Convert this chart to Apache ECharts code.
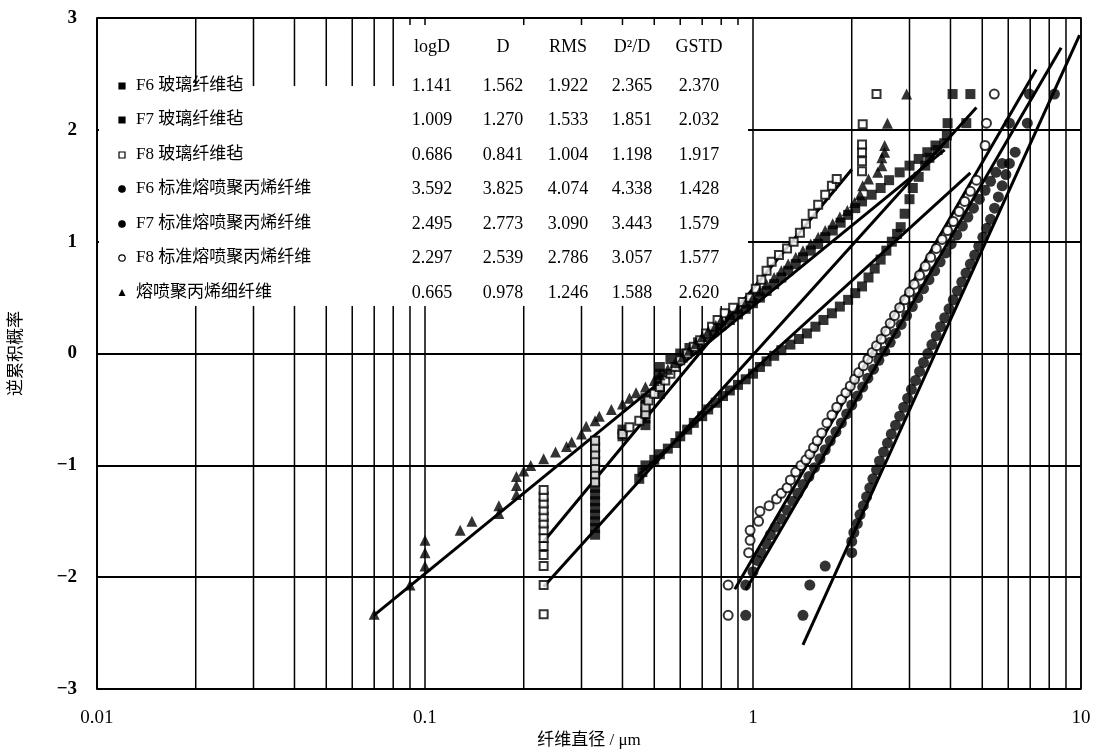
<!DOCTYPE html>
<html>
<head>
<meta charset="utf-8">
<script src="https://cdn.jsdelivr.net/npm/echarts/dist/echarts.min.js"></script>
<style>
  html, body { margin: 0; padding: 0; background: #fff; }
  #chart { width: 1095px; height: 754px; }
</style>
</head>
<body>
<div id="chart"></div>
<script>
// ---- Sample names and summary statistics (table inside the plot) ----
const seriesNames = ['F6 玻璃纤维毡', 'F7 玻璃纤维毡', 'F8 玻璃纤维毡',
  'F6 标准熔喷聚丙烯纤维', 'F7 标准熔喷聚丙烯纤维', 'F8 标准熔喷聚丙烯纤维', '熔喷聚丙烯细纤维'];
const statHeaders = ['logD', 'D', 'RMS', 'D²/D', 'GSTD'];
const statLogD = [1.141, 1.009, 0.686, 3.592, 2.495, 2.297, 0.665];
const statD    = [1.562, 1.270, 0.841, 3.825, 2.773, 2.539, 0.978];
const statRMS  = [1.922, 1.533, 1.004, 4.074, 3.090, 2.786, 1.246];
const statD2D  = [2.365, 1.851, 1.198, 4.338, 3.443, 3.057, 1.588];
const statGSTD = [2.370, 2.032, 1.917, 1.428, 1.579, 1.577, 2.620];

// ---- Axis ticks ----
const xTickLabels = { 0.01: '0.01', 0.1: '0.1', 1: '1', 10: '10' };
const xMinorGrid = [0.02, 0.03, 0.04, 0.05, 0.06, 0.07, 0.08, 0.09,
  0.2, 0.3, 0.4, 0.5, 0.6, 0.7, 0.8, 0.9,
  2, 3, 4, 5, 6, 7, 8, 9];

// ---- Measured points: [fibre diameter (µm), inverse cumulative probability] ----
const glassF6 = [[0.45,-1.12],[0.46,-1.06],[0.47,-1.0],[0.5,-0.95],[0.52,-0.9],[0.55,-0.85],[0.58,-0.8],[0.6,-0.74],
  [0.63,-0.68],[0.66,-0.62],[0.7,-0.56],[0.73,-0.5],[0.77,-0.44],[0.81,-0.38],[0.85,-0.33],[0.9,-0.28],[0.95,-0.23],
  [1.0,-0.18],[1.05,-0.12],[1.1,-0.07],[1.16,-0.02],[1.22,0.03],[1.3,0.08],[1.38,0.13],[1.46,0.18],[1.55,0.24],[1.64,0.3],
  [1.74,0.36],[1.84,0.42],[1.95,0.48],[2.05,0.54],[2.15,0.6],[2.25,0.68],[2.35,0.76],[2.45,0.84],[2.55,0.92],[2.65,1.0],
  [2.75,1.07],[2.82,1.13],[2.9,1.25],[3.0,1.38],[3.07,1.48],[3.2,1.58],[3.35,1.68],[3.45,1.75],[3.65,1.82],[3.83,1.88],
  [3.92,2.06],[4.06,2.32]];
const glassF7 = [[0.33,-1.62],[0.33,-1.56],[0.33,-1.5],[0.33,-1.44],[0.33,-1.38],[0.33,-1.32],[0.33,-1.26],[0.33,-1.2],[0.33,-1.14],
  [0.33,-1.08],[0.33,-1.02],[0.33,-0.96],[0.33,-0.9],[0.33,-0.84],[0.33,-0.78],[0.4,-0.74],[0.4,-0.68],[0.47,-0.64],[0.47,-0.58],
  [0.47,-0.52],[0.47,-0.46],[0.47,-0.4],[0.52,-0.36],[0.52,-0.3],[0.52,-0.24],[0.52,-0.18],[0.52,-0.12],[0.56,-0.05],[0.6,0.0],
  [0.64,0.05],[0.68,0.1],[0.72,0.15],[0.76,0.2],[0.8,0.25],[0.85,0.3],[0.9,0.35],[0.95,0.4],[1.0,0.45],[1.05,0.5],[1.1,0.56],
  [1.16,0.62],[1.22,0.68],[1.28,0.74],[1.35,0.8],[1.42,0.86],[1.5,0.92],[1.58,0.98],[1.66,1.04],[1.75,1.1],[1.85,1.17],
  [1.95,1.24],[2.05,1.3],[2.15,1.36],[2.3,1.42],[2.45,1.48],[2.6,1.55],[2.8,1.62],[3.0,1.68],[3.2,1.74],[3.4,1.8],[3.6,1.86],
  [3.9,1.95],[4.47,2.06],[4.6,2.32]];
const glassF8 = [[0.23,-2.33],[0.23,-2.07],[0.23,-1.9],[0.23,-1.8],[0.23,-1.72],[0.23,-1.65],[0.23,-1.58],[0.23,-1.52],[0.23,-1.46],
  [0.23,-1.4],[0.23,-1.34],[0.23,-1.28],[0.23,-1.22],[0.33,-1.15],[0.33,-1.08],[0.33,-1.02],[0.33,-0.96],[0.33,-0.9],[0.33,-0.84],
  [0.33,-0.78],[0.4,-0.72],[0.42,-0.66],[0.45,-0.6],[0.47,-0.54],[0.47,-0.48],[0.48,-0.42],[0.5,-0.36],[0.52,-0.3],[0.54,-0.24],
  [0.56,-0.18],[0.58,-0.12],[0.6,-0.06],[0.63,0.0],[0.66,0.06],[0.69,0.12],[0.72,0.18],[0.75,0.24],[0.78,0.3],[0.82,0.36],
  [0.87,0.41],[0.93,0.46],[0.98,0.5],[1.02,0.58],[1.06,0.66],[1.1,0.74],[1.14,0.82],[1.2,0.88],[1.27,0.94],[1.33,1.0],
  [1.39,1.08],[1.45,1.16],[1.52,1.25],[1.58,1.33],[1.66,1.42],[1.74,1.5],[1.8,1.56],[2.15,1.63],[2.15,1.72],[2.15,1.8],
  [2.15,1.87],[2.16,2.05],[2.38,2.32]];
const stdF6 = [[1.42,-2.34],[1.49,-2.07],[1.66,-1.9],[2.0,-1.78],[2.0,-1.68],[2.03,-1.6],[2.08,-1.52],[2.12,-1.44],[2.17,-1.36],
  [2.22,-1.28],[2.27,-1.2],[2.32,-1.12],[2.38,-1.04],[2.43,-0.96],[2.5,-0.88],[2.57,-0.8],[2.64,-0.72],[2.72,-0.64],[2.8,-0.56],
  [2.88,-0.48],[2.96,-0.4],[3.04,-0.32],[3.13,-0.24],[3.22,-0.16],[3.31,-0.08],[3.41,0.0],[3.51,0.08],[3.62,0.16],[3.73,0.24],
  [3.84,0.32],[3.96,0.4],[4.08,0.48],[4.2,0.56],[4.33,0.64],[4.46,0.72],[4.6,0.8],[4.74,0.88],[4.88,0.96],[5.02,1.04],
  [5.16,1.12],[5.3,1.2],[5.45,1.3],[5.6,1.4],[5.75,1.5],[5.9,1.6],[6.05,1.7],[6.3,1.8],[6.86,2.06],[8.3,2.32]];
const stdF7 = [[0.95,-2.34],[0.95,-2.07],[1.0,-1.95],[1.03,-1.85],[1.06,-1.78],[1.1,-1.7],[1.13,-1.62],[1.17,-1.55],[1.22,-1.48],
  [1.27,-1.4],[1.32,-1.32],[1.37,-1.25],[1.42,-1.17],[1.48,-1.1],[1.54,-1.02],[1.6,-0.94],[1.66,-0.86],[1.72,-0.78],[1.79,-0.7],
  [1.86,-0.62],[1.93,-0.54],[2.0,-0.46],[2.08,-0.38],[2.16,-0.3],[2.24,-0.22],[2.33,-0.14],[2.42,-0.06],[2.52,0.02],[2.62,0.1],
  [2.72,0.18],[2.83,0.26],[2.94,0.34],[3.06,0.42],[3.18,0.5],[3.31,0.58],[3.44,0.66],[3.58,0.74],[3.72,0.82],[3.87,0.9],
  [4.02,0.98],[4.18,1.06],[4.35,1.14],[4.52,1.22],[4.7,1.3],[4.9,1.38],[5.1,1.46],[5.3,1.54],[5.5,1.62],[5.75,1.7],
  [6.05,2.06],[6.96,2.32]];
const stdF8 = [[0.84,-2.34],[0.84,-2.07],[0.97,-1.78],[0.98,-1.67],[0.98,-1.58],[1.04,-1.5],[1.05,-1.41],[1.12,-1.36],[1.18,-1.3],
  [1.22,-1.25],[1.27,-1.2],[1.3,-1.13],[1.35,-1.06],[1.4,-1.0],[1.45,-0.95],[1.49,-0.9],[1.53,-0.84],[1.57,-0.78],[1.62,-0.71],
  [1.68,-0.62],[1.74,-0.55],[1.8,-0.48],[1.86,-0.41],[1.92,-0.35],[1.98,-0.29],[2.04,-0.23],[2.1,-0.17],[2.17,-0.11],
  [2.24,-0.05],[2.31,0.01],[2.38,0.07],[2.46,0.13],[2.54,0.2],[2.62,0.27],[2.7,0.34],[2.8,0.41],[2.9,0.48],[3.0,0.55],
  [3.1,0.62],[3.22,0.7],[3.35,0.78],[3.48,0.86],[3.62,0.94],[3.77,1.02],[3.92,1.1],[4.08,1.18],[4.25,1.27],[4.42,1.36],
  [4.6,1.45],[4.8,1.55],[5.1,1.86],[5.15,2.06],[5.44,2.32]];
const fineFibre = [[0.07,-2.33],[0.09,-2.07],[0.1,-1.9],[0.1,-1.78],[0.1,-1.67],[0.128,-1.58],[0.139,-1.5],[0.168,-1.43],
  [0.168,-1.36],[0.19,-1.26],[0.19,-1.18],[0.19,-1.1],[0.2,-1.05],[0.21,-1.0],[0.23,-0.94],[0.25,-0.88],[0.27,-0.83],
  [0.28,-0.79],[0.3,-0.72],[0.31,-0.65],[0.33,-0.6],[0.34,-0.56],[0.37,-0.5],[0.4,-0.45],[0.42,-0.4],[0.44,-0.35],[0.47,-0.3],
  [0.5,-0.24],[0.52,-0.19],[0.55,-0.14],[0.58,-0.08],[0.61,-0.03],[0.64,0.03],[0.67,0.09],[0.7,0.15],[0.73,0.2],[0.77,0.25],
  [0.8,0.3],[0.85,0.35],[0.9,0.4],[0.95,0.45],[1.0,0.5],[1.05,0.56],[1.1,0.62],[1.16,0.68],[1.22,0.74],[1.28,0.8],[1.35,0.86],
  [1.42,0.92],[1.5,0.98],[1.58,1.04],[1.66,1.1],[1.75,1.16],[1.84,1.22],[1.94,1.28],[2.04,1.35],[2.12,1.42],[2.16,1.5],
  [2.25,1.56],[2.4,1.62],[2.47,1.68],[2.47,1.75],[2.52,1.8],[2.52,1.86],[2.57,2.06],[2.94,2.32]];

// ---- Fitted log-normal lines: endpoints [x, y] ----
const fitGlassF6 = [[0.45, -1.079], [4.6, 1.616]];
const fitGlassF7 = [[0.23, -2.086], [4.8, 2.200]];
const fitGlassF8 = [[0.23, -1.680], [2.0, 1.645]];
const fitStdF6   = [[1.42, -2.605], [9.9, 2.846]];
const fitStdF7   = [[0.95, -2.114], [8.7, 2.734]];
const fitStdF8   = [[0.88, -2.107], [7.3, 2.539]];
const fitFine    = [[0.07, -2.338], [3.84, 1.821]];

const pointSets = [glassF6, glassF7, glassF8, stdF6, stdF7, stdF8, fineFibre];
const fitSets = [fitGlassF6, fitGlassF7, fitGlassF8, fitStdF6, fitStdF7, fitStdF8, fitFine];
const symbols = ['rect', 'rect', 'emptyRect', 'circle', 'circle', 'emptyCircle', 'triangle'];
const symbolSizes = [10, 10, 8, 11, 11, 9, 11];

const INK = '#000';
const serif = '"Liberation Serif", "Noto Sans CJK SC", serif';

const chart = echarts.init(document.getElementById('chart'), null, { renderer: 'canvas' });

const series = [];
// minor logarithmic grid lines, drawn through the axes
xMinorGrid.forEach(v => {
  series.push({
    type: 'line', silent: true, z: 1, symbol: 'none', animation: false,
    data: [[v, -3], [v, 3]],
    lineStyle: { color: INK, width: 1.5 }
  });
});
fitSets.forEach((d, i) => {
  series.push({
    type: 'line', name: seriesNames[i] + ' fit', silent: true, z: 4, symbol: 'none', animation: false,
    data: d, lineStyle: { color: INK, width: 3 }
  });
});
pointSets.forEach((d, i) => {
  series.push({
    type: 'scatter', name: seriesNames[i], z: 5, animation: false,
    symbol: symbols[i], symbolSize: symbolSizes[i],
    data: d,
    itemStyle: { color: INK, borderColor: INK, borderWidth: symbols[i].startsWith('empty') ? 2 : 0 }
  });
});

// ---- In-plot table with white backing ----
const tableRowsY = [86, 120, 155, 189, 224, 258, 293];
const headerY = 47;
const colX = [432, 503, 568, 632, 699];
const markerX = 122, nameX = 136;
const graphics = [{
  type: 'polygon', z: 3, silent: true,
  shape: { points: [[99, 86], [398, 86], [398, 25], [748, 25], [748, 306], [99, 306]] },
  style: { fill: '#fff', stroke: null }
}];
statHeaders.forEach((h, j) => {
  graphics.push({ type: 'text', z: 10, silent: true,
    style: { text: h, x: colX[j], y: headerY, fill: INK, font: '18px ' + serif,
      textAlign: 'center', textVerticalAlign: 'middle' } });
});
const statCols = [statLogD, statD, statRMS, statD2D, statGSTD];
seriesNames.forEach((name, i) => {
  const y = tableRowsY[i];
  const s = symbols[i];
  if (s === 'rect' || s === 'emptyRect') {
    graphics.push({ type: 'rect', z: 10, silent: true,
      shape: { x: markerX - 3, y: y - 3, width: 6, height: 6 },
      style: { fill: s === 'rect' ? INK : '#fff', stroke: INK, lineWidth: 1.2 } });
  } else if (s === 'triangle') {
    graphics.push({ type: 'polygon', z: 10, silent: true,
      shape: { points: [[markerX, y - 4], [markerX + 3.5, y + 3], [markerX - 3.5, y + 3]] },
      style: { fill: INK } });
  } else {
    graphics.push({ type: 'circle', z: 10, silent: true,
      shape: { cx: markerX, cy: y, r: 3.2 },
      style: { fill: s === 'circle' ? INK : '#fff', stroke: INK, lineWidth: 1.2 } });
  }
  graphics.push({ type: 'text', z: 10, silent: true,
    style: { text: name, x: nameX, y: y, fill: INK, font: '17px ' + serif,
      textAlign: 'left', textVerticalAlign: 'middle' } });
  statCols.forEach((col, j) => {
    graphics.push({ type: 'text', z: 10, silent: true,
      style: { text: col[i].toFixed(3), x: colX[j], y: y, fill: INK, font: '18px ' + serif,
        textAlign: 'center', textVerticalAlign: 'middle' } });
  });
});

chart.setOption({
  animation: false,
  backgroundColor: '#fff',
  grid: { left: 95, right: 14, top: 18, bottom: 56, show: true, borderColor: INK, borderWidth: 1.5 },
  xAxis: {
    type: 'log', logBase: 10, min: 0.01, max: 10,
    name: '纤维直径 / μm', nameLocation: 'middle', nameGap: 40,
    nameTextStyle: { color: INK, fontSize: 17, fontFamily: serif },
    axisLine: { show: true, lineStyle: { color: INK, width: 1.5 } },
    axisTick: { show: false },
    axisLabel: { color: INK, fontSize: 19, fontFamily: serif, margin: 19,
      formatter: v => xTickLabels[v] !== undefined ? xTickLabels[v] : '' },
    splitLine: { show: true, lineStyle: { color: INK, width: 1.5 } }
  },
  yAxis: {
    type: 'value', min: -3, max: 3, interval: 1,
    name: '逆累积概率', nameLocation: 'middle', nameGap: 72, nameRotate: 90,
    nameTextStyle: { color: INK, fontSize: 17, fontFamily: serif },
    axisLine: { show: true, lineStyle: { color: INK, width: 1.5 } },
    axisTick: { show: false },
    axisLabel: { color: INK, fontSize: 19, fontWeight: 'bold', fontFamily: serif, margin: 20,
      formatter: v => (v < 0 ? '\u2212' + Math.abs(v) : String(v)) },
    splitLine: { show: true, lineStyle: { color: INK, width: 2 } }
  },
  graphic: { elements: graphics },
  series: series
});
</script>
</body>
</html>
